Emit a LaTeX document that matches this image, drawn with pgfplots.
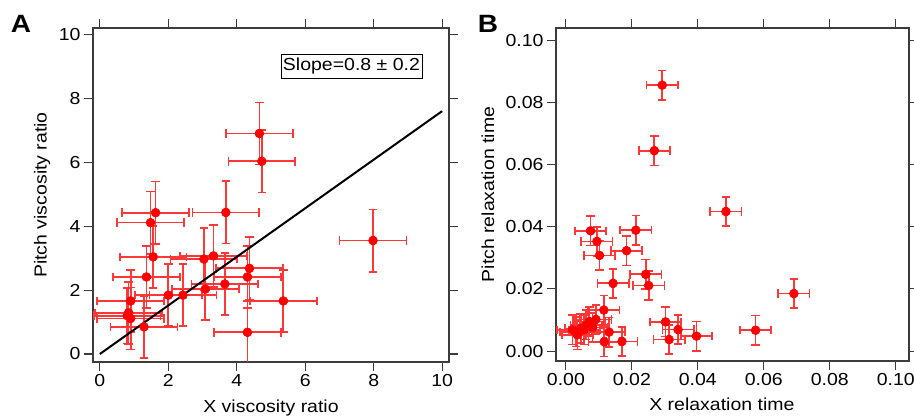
\documentclass[border=0pt]{standalone}
\usepackage{fontspec}
\setmainfont{Liberation Sans}[FakeStretch=1.12]
\usepackage{pgfplots}
\pgfplotsset{compat=1.18}
\usepackage{pgfplotstable}
\usetikzlibrary{arrows.meta}
\definecolor{ebred}{RGB}{255,55,55}
\definecolor{frame}{RGB}{60,60,60}

\pgfplotstableread{
x y ex ey
4.66 6.90 1.0 1.0
4.73 6.03 1.0 1.0
1.63 4.42 1.0 1.0
1.48 4.11 1.0 1.0
3.68 4.43 1.0 1.0
1.56 3.04 1.0 1.0
3.04 2.97 1.0 1.0
3.32 3.07 1.0 1.0
4.37 2.68 1.0 1.0
4.31 2.41 1.0 1.0
1.36 2.41 1.0 1.0
3.65 2.19 1.0 1.0
3.08 2.03 1.0 1.0
2.00 1.84 1.0 1.0
2.43 1.84 1.0 1.0
0.90 1.66 1.0 1.0
0.84 1.29 1.0 1.0
0.90 1.11 1.0 1.0
0.80 1.20 1.0 0.9
1.29 0.85 1.0 1.0
4.31 0.68 1.0 1.0
5.36 1.66 1.0 1.0
7.98 3.55 1.0 1.0
}\dataA

\pgfplotstableread{
x y ex ey
0.0292 0.0856 0.005 0.005
0.0268 0.0645 0.005 0.005
0.0485 0.0449 0.005 0.005
0.0075 0.0387 0.005 0.005
0.0212 0.0389 0.005 0.005
0.0094 0.0353 0.005 0.005
0.0102 0.0308 0.005 0.005
0.0184 0.0323 0.005 0.005
0.0242 0.0247 0.005 0.005
0.0143 0.0218 0.005 0.005
0.0251 0.0211 0.005 0.005
0.0691 0.0185 0.005 0.005
0.0575 0.0067 0.005 0.005
0.0396 0.0048 0.005 0.005
0.0340 0.0069 0.005 0.005
0.0302 0.0094 0.005 0.005
0.0313 0.0037 0.005 0.005
0.0115 0.0132 0.005 0.005
0.0131 0.0061 0.005 0.005
0.0170 0.0031 0.005 0.005
0.0116 0.0030 0.005 0.005
0.0030 0.0062 0.005 0.005
0.0045 0.0073 0.005 0.005
0.0061 0.0084 0.005 0.005
0.0071 0.0095 0.005 0.005
0.0091 0.0102 0.005 0.005
0.0035 0.0052 0.005 0.005
0.0055 0.0068 0.005 0.005
0.0081 0.0076 0.005 0.005
0.0020 0.0068 0.005 0.005
}\dataB

\pgfplotsset{
  igor/.style={
    scale only axis,
    anchor=south west,
    axis line style={line width=1.2pt, frame},
    tick align=outside,
    xtick pos=both, ytick pos=both,
    xticklabel pos=bottom, yticklabel pos=left,
    major tick length=9pt,
    every tick/.style={frame, line width=1.1pt},
    /pgf/number format/assume math mode=true,
    font=\fontsize{17.4}{20}\selectfont,
    clip=true,
  },
  pts/.style={
    only marks, mark=*, mark size=4.5pt, color=red, mark options={fill=red, draw=red},
    error bars/.cd, x dir=both, x explicit, y dir=both, y explicit,
    error mark=none,
    error bar style={draw=ebred, line width=1.7pt,
      {Bar[width=8.5pt]}-{Bar[width=8.5pt]}},
  },
}

\begin{document}
\begin{tikzpicture}[x=1pt,y=1pt]
\path[use as bounding box] (0,0) rectangle (914,417);

\begin{axis}[igor,
  at={(93pt,55pt)}, width=356pt, height=334pt,
  xmin=-0.2, xmax=10.2, ymin=-0.25, ymax=10.2,
  xtick={0,2,4,6,8,10}, ytick={0,2,4,6,8,10},
  xlabel={X viscosity ratio}, ylabel={Pitch viscosity ratio},
  xlabel style={at={(axis description cs:0.5,-0.15)}, anchor=base},
  ylabel style={at={(axis description cs:-0.143,0.5)}, anchor=center},
]
\addplot+[pts] table[x=x, y=y, x error=ex, y error=ey] {\dataA};
\addplot[black, line width=2pt, no marks] coordinates {(0,0) (10,7.6)};
\node[draw=black, line width=0.8pt, inner xsep=2pt, inner ysep=4pt, fill=white, anchor=center] at (axis cs:7.35,9.0) {Slope=0.8 ± 0.2};
\end{axis}

\begin{axis}[igor,
  at={(556pt,56pt)}, width=353pt, height=333pt,
  xmin=-0.003, xmax=0.104, ymin=-0.0032, ymax=0.104,
  xtick={0,0.02,0.04,0.06,0.08,0.1}, ytick={0,0.02,0.04,0.06,0.08,0.1},
  xticklabel style={/pgf/number format/.cd, fixed, fixed zerofill, precision=2},
  yticklabel style={/pgf/number format/.cd, fixed, fixed zerofill, precision=2},
  scaled ticks=false,
  xlabel={X relaxation time}, ylabel={Pitch relaxation time},
  xlabel style={at={(axis description cs:0.47,-0.15)}, anchor=base},
  ylabel style={at={(axis description cs:-0.193,0.5)}, anchor=center},
]
\addplot+[pts] table[x=x, y=y, x error=ex, y error=ey] {\dataB};
\end{axis}

\node[font=\fontsize{25}{28}\selectfont\bfseries] at (21,393) {A};
\node[font=\fontsize{25}{28}\selectfont\bfseries] at (488,393) {B};
\end{tikzpicture}
\end{document}
